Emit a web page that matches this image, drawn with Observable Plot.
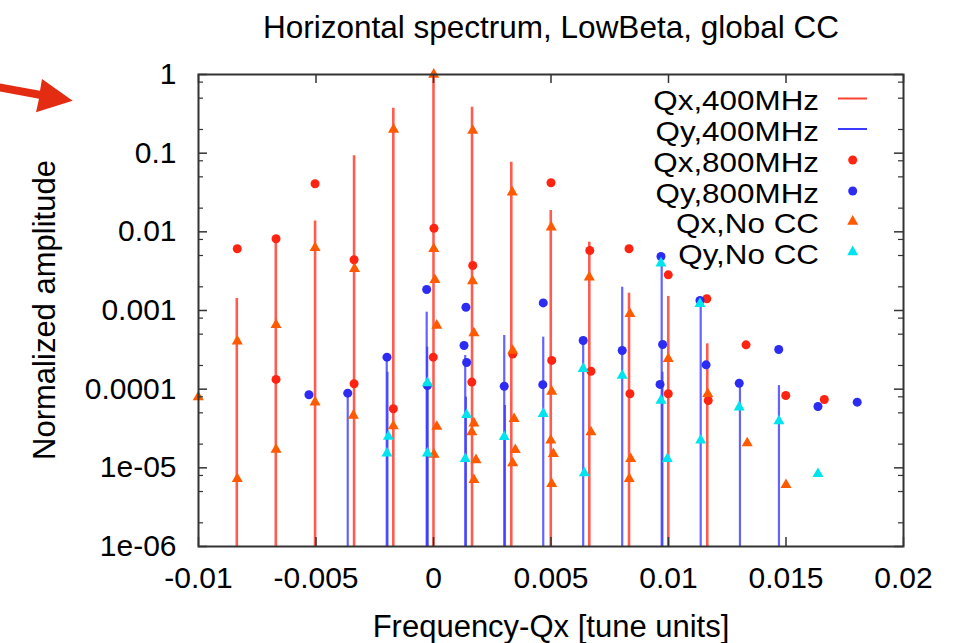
<!DOCTYPE html>
<html><head><meta charset="utf-8">
<script src="https://cdn.jsdelivr.net/npm/d3@7"></script>
<script src="https://cdn.jsdelivr.net/npm/@observablehq/plot@0.6"></script>
<style>
html,body{margin:0;padding:0;background:#fff;}
#wrap{position:relative;width:960px;height:643px;overflow:hidden;font-family:"Liberation Sans",Arial,Helvetica,sans-serif;}
#overlay{position:absolute;left:0;top:0;pointer-events:none;}
</style></head><body><div id="wrap"></div>
<script>
// ---------------- data ----------------
const title = "Horizontal spectrum, LowBeta, global CC";
const xLabelText = "Frequency-Qx [tune units]";
const yLabelText = "Normalized amplitude";
const seriesNames = ["Qx,400MHz", "Qy,400MHz", "Qx,800MHz", "Qy,800MHz", "Qx,No CC", "Qy,No CC"];

const xDomain = [-0.01, 0.02];
const yDomain = [1e-6, 1];
const xTickValues = [-0.01, -0.005, 0, 0.005, 0.01, 0.015, 0.02];
const xTickLabels = ["-0.01", "-0.005", "0", "0.005", "0.01", "0.015", "0.02"];
const yTickValues = [1, 0.1, 0.01, 0.001, 0.0001, 1e-5, 1e-6];
const yTickLabels = ["1", "0.1", "0.01", "0.001", "0.0001", "1e-05", "1e-06"];
const yMinorMultipliers = [2, 5, 8];

// Qx,400MHz (red impulses)
const qx400X = [-0.00837, -0.00671, -0.00504, -0.00338, -0.00171, 0.0, 0.00164, 0.00331, 0.00499, 0.00663, 0.00832, 0.00999, 0.01165];
const qx400Y = [1.42e-3, 8.2e-3, 0.0137, 0.093, 0.373, 1.0, 0.384, 0.0768, 0.0187, 0.00738, 0.00166, 0.00151, 3.77e-4];
// Qy,400MHz (blue impulses)
const qy400X = [-0.00365, -0.00199, -0.00196, -0.00029, -0.00027, -0.00025, 0.00135, 0.00138, 0.00301, 0.00304, 0.00467, 0.00637, 0.00803, 0.00971, 0.00974, 0.01137, 0.01304, 0.01470];
const qy400Y = [8.89e-5, 2.55e-4, 1.64e-4, 9.52e-4, 3.42e-4, 1.06e-4, 2.68e-4, 7.91e-5, 4.81e-4, 6.20e-5, 4.58e-4, 4.16e-4, 1.98e-3, 4.76e-3, 1.64e-4, 1.34e-3, 1.19e-4, 1.11e-4];
// Qx,800MHz (red dots)
const qx800X = [-0.00835, -0.00670, -0.00670, -0.00504, -0.00338, -0.00338, -0.00171, 0.00002, -0.00001, 0.00167, 0.00163, 0.00337, 0.00500, 0.00503, 0.00665, 0.00670, 0.00832, 0.00836, 0.00999, 0.00999, 0.01163, 0.01169, 0.01330, 0.01499, 0.01663];
const qx800Y = [6.09e-3, 8.16e-3, 1.33e-4, 0.0408, 4.41e-3, 1.17e-4, 5.63e-5, 0.0111, 2.55e-4, 3.73e-3, 1.23e-4, 2.79e-4, 0.0420, 2.32e-4, 5.79e-3, 1.69e-4, 6.09e-3, 8.74e-5, 2.84e-3, 8.74e-5, 1.41e-3, 7.18e-5, 3.66e-4, 8.32e-5, 7.39e-5];
// Qy,800MHz (blue dots)
const qy800X = [-0.00530, -0.00365, -0.00198, -0.00029, -0.00026, 0.00138, 0.00130, 0.00141, 0.00301, 0.00467, 0.00465, 0.00637, 0.00803, 0.00968, 0.00975, 0.00964, 0.01134, 0.01160, 0.01301, 0.01469, 0.01636, 0.01803];
const qy800Y = [8.49e-5, 8.89e-5, 2.55e-4, 1.85e-3, 1.11e-4, 1.10e-3, 3.59e-4, 2.18e-4, 1.09e-4, 1.25e-3, 1.14e-4, 4.16e-4, 3.10e-4, 4.86e-3, 3.70e-4, 1.15e-4, 1.34e-3, 2.04e-4, 1.19e-4, 3.19e-4, 6.03e-5, 6.83e-5];
// Qx,No CC (orange triangles)
const qxNoX = [-0.01001, -0.00835, -0.00835, -0.00670, -0.00670, -0.00504, -0.00504, -0.00336, -0.00341, -0.00170, -0.00171, 0.00001, 0.00001, 0.00006, 0.00014, 0.00014, 0.00002, 0.00167, 0.00166, 0.00172, 0.00172, 0.00163, 0.00181, 0.00172, 0.00335, 0.00337, 0.00343, 0.00348, 0.00337, 0.00501, 0.00503, 0.00499, 0.00510, 0.00503, 0.00663, 0.00670, 0.00836, 0.00839, 0.00833, 0.00999, 0.01167, 0.01335, 0.01500];
const qxNoY = [7.91e-5, 4.07e-4, 7.26e-6, 6.58e-4, 1.71e-5, 6.27e-3, 6.83e-5, 3.39e-3, 4.63e-5, 0.200, 3.4e-5, 1.0, 6.09e-3, 2.45e-3, 6.45e-4, 3.35e-5, 1.48e-5, 0.194, 2.36e-3, 5.15e-4, 3.69e-5, 2.84e-5, 1.26e-5, 7.05e-6, 0.0319, 3.10e-4, 4.20e-5, 1.69e-5, 1.15e-5, 0.01145, 9.35e-5, 2.23e-5, 1.51e-5, 6.27e-6, 2.65e-3, 2.84e-5, 9.08e-4, 1.30e-5, 7.26e-6, 2.43e-4, 8.74e-5, 2.06e-5, 6.09e-6];
// Qy,No CC (cyan triangles)
const qyNoX = [-0.00192, -0.00198, -0.00026, -0.00026, 0.00141, 0.00135, 0.00301, 0.00467, 0.00637, 0.00642, 0.00803, 0.00968, 0.00968, 0.00995, 0.01134, 0.01137, 0.01301, 0.01470, 0.01636];
const qyNoY = [2.50e-5, 1.53e-5, 1.2e-4, 1.53e-5, 4.72e-5, 1.30e-5, 2.48e-5, 4.87e-5, 1.82e-4, 8.55e-6, 1.49e-4, 3.99e-3, 7.18e-5, 1.30e-5, 1.22e-3, 2.23e-5, 5.90e-5, 3.92e-5, 8.40e-6];

// ---------------- styles ----------------
const col = {qx400: "#ff4030", qy400: "#3c3cff", qx800: "#ff2412", qy800: "#2c2cf2", qxNo: "#ff5a00", qyNo: "#00e4f0"};
const frameColor = "#333";
const fontFamily = '"Liberation Sans", Arial, Helvetica, sans-serif';

// ---------------- build ----------------
const pts = (xs, ys) => xs.map((x, i) => ({x, y: ys[i]}));
const qx400 = pts(qx400X, qx400Y), qy400 = pts(qy400X, qy400Y);
const qx800 = pts(qx800X, qx800Y), qy800 = pts(qy800X, qy800Y);
const qxNo = pts(qxNoX, qxNoY), qyNo = pts(qyNoX, qyNoY);

const yMinor = [];
for (const d of yTickValues.slice(1)) for (const m of yMinorMultipliers) yMinor.push(d * m);
const xLab = new Map(xTickValues.map((v, i) => [v, xTickLabels[i]]));
const yLab = new Map(yTickValues.map((v, i) => [v, yTickLabels[i]]));

const W = 960, H = 643, mL = 198, mR = 57, mT = 74, mB = 97;
const pW = W - mL - mR, pH = H - mT - mB;
const triR = 4.1, dotR = 4.5;

const chart = Plot.plot({
  width: W, height: H,
  marginLeft: mL, marginRight: mR, marginTop: mT, marginBottom: mB,
  style: {fontFamily, fontSize: "30px", color: "#000", background: "#fff", overflow: "visible"},
  x: {domain: xDomain},
  y: {type: "log", domain: yDomain},
  marks: [
    Plot.ruleX(qx400, {x: "x", y1: () => yDomain[0], y2: "y", stroke: col.qx400, strokeWidth: 2.6, strokeOpacity: 0.85}),
    Plot.ruleX(qy400, {x: "x", y1: () => yDomain[0], y2: "y", stroke: col.qy400, strokeWidth: 2.2, strokeOpacity: 0.8}),
    Plot.dot(qx800, {x: "x", y: "y", r: dotR, fill: col.qx800}),
    Plot.dot(qy800, {x: "x", y: "y", r: dotR, fill: col.qy800}),
    Plot.dot(qxNo, {x: "x", y: "y", r: triR, symbol: "triangle", fill: col.qxNo}),
    Plot.dot(qyNo, {x: "x", y: "y", r: triR, symbol: "triangle", fill: col.qyNo}),
    // inward ticks (gnuplot style, mirrored)
    Plot.tickY(yTickValues, {y: d => d, insetRight: pW - 9, stroke: frameColor, strokeWidth: 1.5}),
    Plot.tickY(yTickValues, {y: d => d, insetLeft: pW - 9, stroke: frameColor, strokeWidth: 1.5}),
    Plot.tickY(yMinor, {y: d => d, insetRight: pW - 5, stroke: frameColor, strokeWidth: 1.2}),
    Plot.tickY(yMinor, {y: d => d, insetLeft: pW - 5, stroke: frameColor, strokeWidth: 1.2}),
    Plot.tickX(xTickValues, {x: d => d, insetTop: pH - 9, stroke: frameColor, strokeWidth: 1.5}),
    Plot.tickX(xTickValues, {x: d => d, insetBottom: pH - 9, stroke: frameColor, strokeWidth: 1.5}),
    Plot.frame({stroke: frameColor, strokeWidth: 2}),
    Plot.axisY(yTickValues, {tickSize: 0, tickPadding: 22, tickFormat: d => yLab.get(d), fontSize: 30, label: null}),
    Plot.axisX(xTickValues, {tickSize: 0, tickPadding: 20, tickFormat: d => xLab.get(d), fontSize: 30, label: null})
  ]
});

const wrap = document.getElementById("wrap");
wrap.appendChild(chart);

// ---------------- overlay: title, axis labels, legend, arrow ----------------
const ns = "http://www.w3.org/2000/svg";
const ov = d3.select(wrap).append("svg").attr("id", "overlay").attr("width", W).attr("height", H)
  .attr("xmlns", ns).style("font-family", fontFamily);

ov.append("text").attr("x", 551).attr("y", 38).attr("text-anchor", "middle").attr("font-size", 31.5).attr("fill", "#000").text(title);
ov.append("text").attr("x", 551).attr("y", 637).attr("text-anchor", "middle").attr("font-size", 31).attr("fill", "#000").text(xLabelText);
ov.append("text").attr("transform", "translate(55,310) rotate(-90)").attr("text-anchor", "middle").attr("font-size", 31).attr("fill", "#000").text(yLabelText);

// legend (the reference's legend font is wide and short: 27px high, stretched to the measured widths)
const legBase = [110, 140.5, 171.5, 202.5, 233, 263.5];
const legX = 819, symX = 852.7;
const legFont = 26.5, legStretch = 31.4 / 26.5;
const legKinds = ["line", "line", "dot", "dot", "tri", "tri"];
const legCols = [col.qx400, col.qy400, col.qx800, col.qy800, col.qxNo, col.qyNo];
seriesNames.forEach((name, i) => {
  const b = legBase[i];
  ov.append("text").attr("transform", `translate(${legX},${b}) scale(${legStretch},1.04)`)
    .attr("text-anchor", "end").attr("font-size", legFont).attr("fill", "#000").text(name);
  const cy = b - 11.5;
  if (legKinds[i] === "line") {
    ov.append("line").attr("x1", 838).attr("x2", 867).attr("y1", cy).attr("y2", cy).attr("stroke", legCols[i]).attr("stroke-width", 2);
  } else if (legKinds[i] === "dot") {
    ov.append("circle").attr("cx", symX).attr("cy", cy).attr("r", dotR).attr("fill", legCols[i]);
  } else {
    ov.append("path").attr("transform", `translate(${symX},${cy})`)
      .attr("d", d3.symbol(d3.symbolTriangle, triR * triR * Math.PI)()).attr("fill", legCols[i]);
  }
});

// red annotation arrow in the top-left corner of the picture
ov.append("polygon")
  .attr("points", "0,83.5 40,90.8 42,79 72.7,100.7 36,112.3 39,98.8 0,91.5")
  .attr("fill", "#e42c12");
</script></body></html>
